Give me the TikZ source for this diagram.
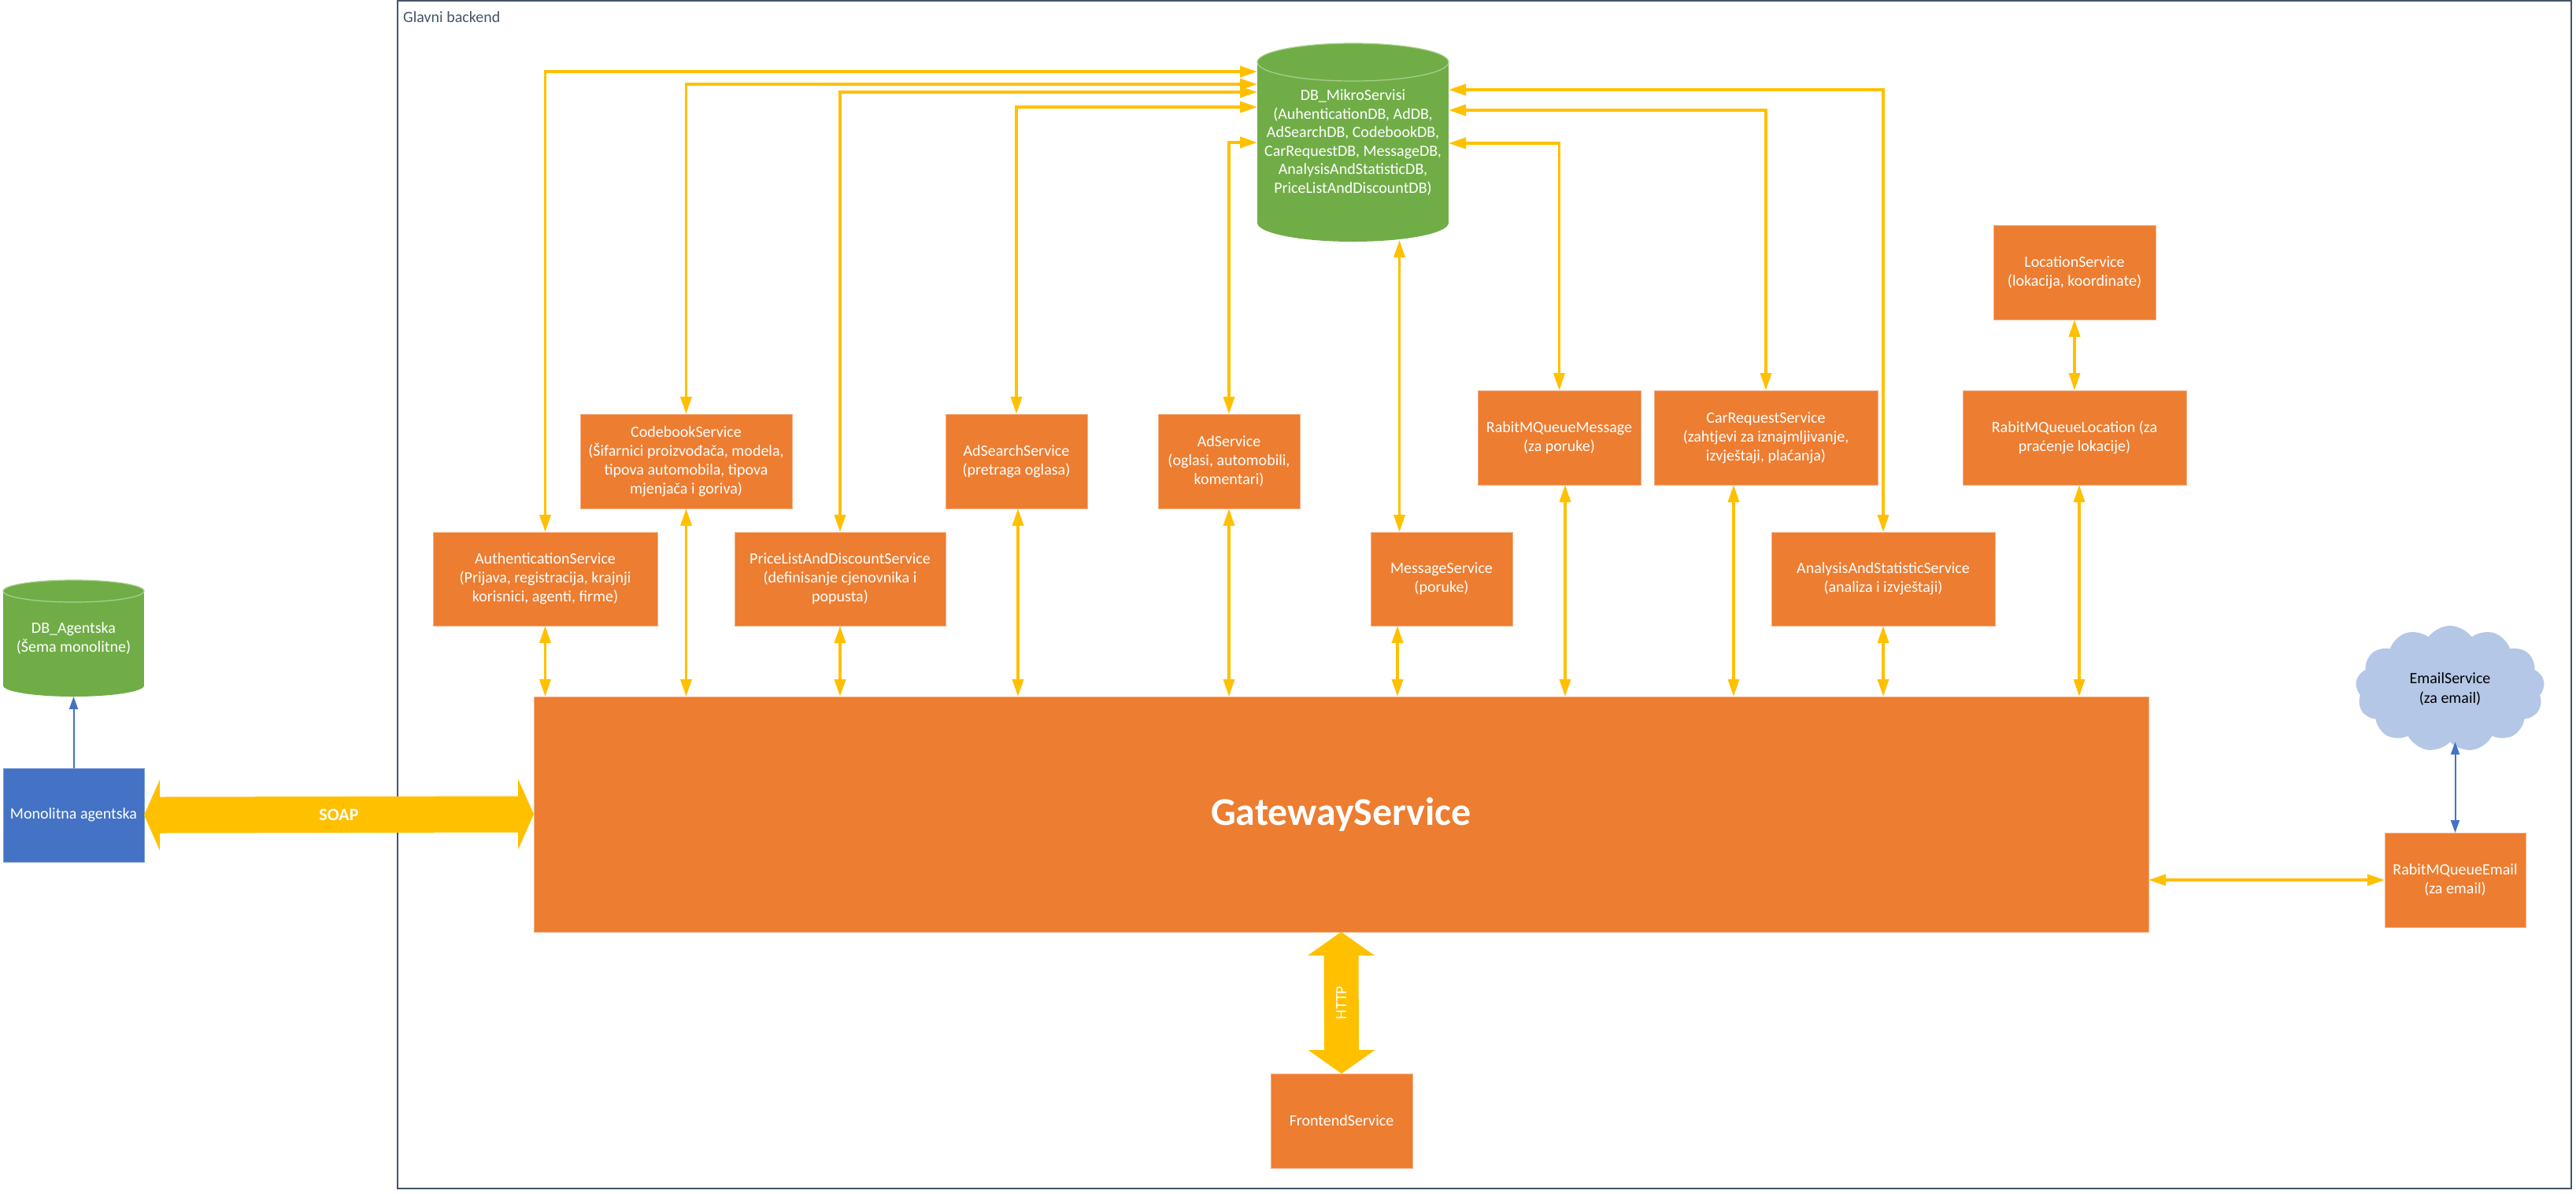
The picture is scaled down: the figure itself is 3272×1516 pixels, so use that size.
\documentclass[tikz,border=0pt]{standalone}
\usepackage{fontspec}
\setmainfont{Carlito}
\usetikzlibrary{arrows.meta,shapes.symbols,calc}
\definecolor{svcor}{HTML}{ED7D31}
\definecolor{svcbd}{HTML}{F4B183}
\definecolor{arry}{HTML}{FFC000}
\definecolor{dbg}{HTML}{70AD47}
\definecolor{dbl}{HTML}{A9D18E}
\definecolor{monob}{HTML}{4472C4}
\definecolor{cloudb}{HTML}{B4C7E7}
\definecolor{framec}{HTML}{44546A}
\begin{document}
\begin{tikzpicture}[x=1pt,y=-1pt,
  svc/.style={rectangle, fill=svcor, draw=svcbd, line width=1pt, text=white, align=center,
    inner sep=0pt, outer sep=0pt, font=\fontsize{20}{24}\selectfont},
  dbtext/.style={rectangle, inner sep=0pt, outer sep=0pt, text=white, align=center,
    font=\fontsize{20}{23.5}\selectfont},
  yarr/.style={draw=arry, line width=3.5pt,
    {Triangle[length=22pt,width=14pt]}-{Triangle[length=22pt,width=14pt]}},
  barr/.style={draw=monob, line width=2pt, -{Triangle[length=16pt,width=11pt]}},
  bbarr/.style={draw=monob, line width=2pt,
    {Triangle[length=16pt,width=11pt]}-{Triangle[length=16pt,width=11pt]}},
  bigarr/.style={fill=arry}
]
\useasboundingbox (0,0) rectangle (3272,1516);
\fill[white] (0,0) rectangle (3272,1516);

% frame
\draw[framec, line width=1.5pt] (505,1) rectangle (3266,1510);
\node[anchor=west, text=framec, inner sep=0pt, font=\fontsize{20}{24}\selectfont] (lbl) at (512,22) {Glavni backend};

% DB_MikroServisi cylinder
\fill[dbg] (1597,79) rectangle (1840,283);
\fill[dbg] (1718.5,283) ellipse [x radius=121.5, y radius=24];
\fill[dbg] (1718.5,79) ellipse [x radius=121.5, y radius=24];
\draw[dbl, line width=1.2pt] (1718.5,79) ellipse [x radius=121.5, y radius=24];
\node[dbtext, minimum width=243pt, minimum height=252pt] (dbm) at (1718.5,181)
  {\raisebox{0pt}{}DB\_MikroServisi\\(AuhenticationDB, AdDB,\\AdSearchDB, CodebookDB,\\CarRequestDB, MessageDB,\\AnalysisAndStatisticDB,\\PriceListAndDiscountDB)};

% DB_Agentska cylinder
\fill[dbg] (4,751) rectangle (183,871);
\fill[dbg] (93.5,871) ellipse [x radius=89.5, y radius=14];
\fill[dbg] (93.5,751) ellipse [x radius=89.5, y radius=14];
\draw[dbl, line width=1.2pt] (93.5,751) ellipse [x radius=89.5, y radius=14];
\node[dbtext, minimum width=179pt, minimum height=148pt] (dba) at (93.5,811)
  {DB\_Agentska\\(Šema monolitne)};

% service boxes
\node[svc, minimum width=285pt, minimum height=119pt] (auth) at (692.5,735.5)
  {AuthenticationService\\(Prijava, registracija, krajnji\\korisnici, agenti, firme)};
\node[svc, minimum width=269pt, minimum height=120pt] (codebook) at (871.5,586)
  {CodebookService\\(Šifarnici proizvođača, modela,\\tipova automobila, tipova\\mjenjača i goriva)};
\node[svc, minimum width=268pt, minimum height=119pt] (price) at (1067,735.5)
  {PriceListAndDiscountService\\(definisanje cjenovnika i\\popusta)};
\node[svc, minimum width=180pt, minimum height=120pt] (adsearch) at (1291,586)
  {AdSearchService\\(pretraga oglasa)};
\node[svc, minimum width=180pt, minimum height=120pt] (adsvc) at (1561,586)
  {AdService\\(oglasi, automobili,\\komentari)};
\node[svc, minimum width=180pt, minimum height=119pt] (msg) at (1831,735.5)
  {MessageService\\(poruke)};
\node[svc, minimum width=207pt, minimum height=120pt] (rmqm) at (1980.5,556)
  {RabitMQueueMessage\\(za poruke)};
\node[svc, minimum width=284pt, minimum height=120pt] (carreq) at (2243,556)
  {CarRequestService\\(zahtjevi za iznajmljivanje,\\izvještaji, plaćanja)};
\node[svc, minimum width=284pt, minimum height=119pt] (analysis) at (2392,735.5)
  {AnalysisAndStatisticService\\(analiza i izvještaji)};
\node[svc, minimum width=284pt, minimum height=120pt] (rmql) at (2635,556)
  {RabitMQueueLocation (za\\praćenje lokacije)};
\node[svc, minimum width=206pt, minimum height=120pt] (locsvc) at (2635,346)
  {LocationService\\(lokacija, koordinate)};
\node[svc, minimum width=2051pt, minimum height=299pt, font=\bfseries\fontsize{50}{60}\selectfont] (gw) at (1703.5,1034.5)
  {GatewayService};
\node[svc, minimum width=180pt, minimum height=120pt] (front) at (1704,1424)
  {FrontendService};
\node[svc, minimum width=179pt, minimum height=120pt] (email) at (3118.5,1118)
  {RabitMQueueEmail\\(za email)};
\node[rectangle, fill=monob, draw=monob!70!white, line width=1pt, text=white, inner sep=0pt, outer sep=0pt,
  minimum width=179pt, minimum height=119pt, font=\fontsize{20}{24}\selectfont] (mono) at (93.5,1035.5)
  {Monolitna agentska};
\node[cloud, cloud puffs=13, cloud puff arc=110, aspect=1.5, fill=cloudb, inner sep=0pt, outer sep=0pt,
  minimum width=240pt, minimum height=160pt, align=center, text=black,
  font=\fontsize{20}{25}\selectfont] (cloud) at (3112,875) {EmailService\\(za email)};

% connectors to DB_MikroServisi
\draw[yarr] (auth.north) |- (dbm.west |- 0,91);
\draw[yarr] (codebook.north) |- (dbm.west |- 0,107);
\draw[yarr] (price.north) |- (dbm.west |- 0,117);
\draw[yarr] (adsearch.north) |- (dbm.west |- 0,136);
\draw[yarr] (adsvc.north) |- (dbm.west |- 0,181);
\draw[yarr] (rmqm.north) |- (dbm.east |- 0,182);
\draw[yarr] (carreq.north) |- (dbm.east |- 0,140);
\draw[yarr] (analysis.north) |- (dbm.east |- 0,114);
\coordinate (mtop) at ($(msg.north west)+(36.5,0)$);
\draw[yarr] (mtop) -- (mtop |- 0,305);

% connectors to GatewayService
\draw[yarr] (auth.south) -- (auth.south |- gw.north);
\draw[yarr] (codebook.south) -- (codebook.south |- gw.north);
\draw[yarr] (price.south) -- (price.south |- gw.north);
\coordinate (asb) at ($(adsearch.south)+(2,0)$);
\draw[yarr] (asb) -- (asb |- gw.north);
\draw[yarr] (adsvc.south) -- (adsvc.south |- gw.north);
\coordinate (msb) at ($(msg.south west)+(34,0)$);
\draw[yarr] (msb) -- (msb |- gw.north);
\coordinate (rmb) at ($(rmqm.south)+(7.5,0)$);
\draw[yarr] (rmb) -- (rmb |- gw.north);
\coordinate (crb) at ($(carreq.south)+(-41,0)$);
\draw[yarr] (crb) -- (crb |- gw.north);
\draw[yarr] (analysis.south) -- (analysis.south |- gw.north);
\coordinate (rlb) at ($(rmql.south)+(6,0)$);
\draw[yarr] (rlb) -- (rlb |- gw.north);
\draw[yarr] (locsvc.south) -- (rmql.north);
\draw[yarr] (gw.east |- email.west) -- (email.west);

% blue connectors
\draw[barr] (mono.north) -- (dba.south);
\draw[bbarr] (cloud.south -| email.north) -- (email.north);

% SOAP big arrow
\fill[bigarr] (mono.east) -- ++(20,-45) -- ++(0,22) -- ($(gw.west)+(-20,-23)$) -- ++(0,-22)
  -- (gw.west) -- ++(-20,45) -- ++(0,-22) -- ($(mono.east)+(20,23)$) -- ++(0,22) -- cycle;
\node[text=white, inner sep=0pt, font=\bfseries\fontsize{22}{26}\selectfont] (soap)
  at ($(mono.east)!0.5!(gw.west)$) {SOAP};

% HTTP big arrow
\fill[bigarr] (gw.south) -- ++(42.5,30) -- ++(-20.5,0) -- ($(front.north)+(22,-30)$) -- ++(20.5,0)
  -- (front.north) -- ++(-42.5,-30) -- ++(20.5,0) -- ($(gw.south)+(-22,30)$) -- ++(-20.5,0) -- cycle;
\node[rotate=90, text=white, inner sep=0pt, font=\fontsize{20}{24}\selectfont] (http)
  at ($(gw.south)!0.5!(front.north)$) {HTTP};
\end{tikzpicture}
\end{document}
